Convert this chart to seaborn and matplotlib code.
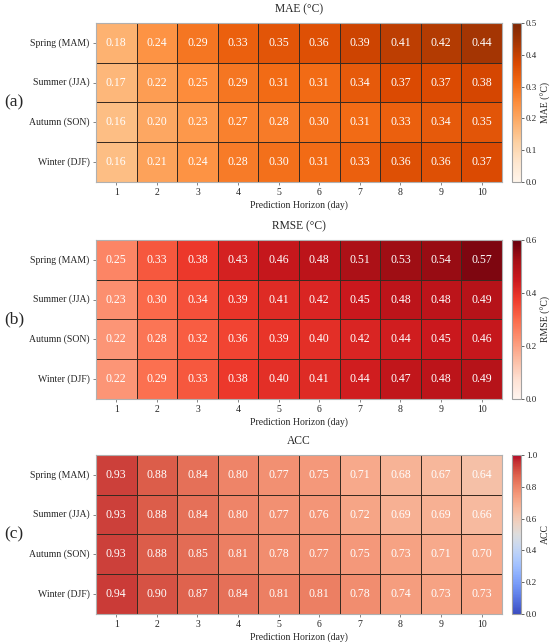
import numpy as np
import pandas as pd
import matplotlib
matplotlib.use("Agg")
import matplotlib.pyplot as plt
import seaborn as sns

seasons = ["Spring (MAM)", "Summer (JJA)", "Autumn (SON)", "Winter (DJF)"]
horizons = [1, 2, 3, 4, 5, 6, 7, 8, 9, 10]

mae = [
    [0.18, 0.24, 0.29, 0.33, 0.35, 0.36, 0.39, 0.41, 0.42, 0.44],
    [0.17, 0.22, 0.25, 0.29, 0.31, 0.31, 0.34, 0.37, 0.37, 0.38],
    [0.16, 0.20, 0.23, 0.27, 0.28, 0.30, 0.31, 0.33, 0.34, 0.35],
    [0.16, 0.21, 0.24, 0.28, 0.30, 0.31, 0.33, 0.36, 0.36, 0.37],
]
rmse = [
    [0.25, 0.33, 0.38, 0.43, 0.46, 0.48, 0.51, 0.53, 0.54, 0.57],
    [0.23, 0.30, 0.34, 0.39, 0.41, 0.42, 0.45, 0.48, 0.48, 0.49],
    [0.22, 0.28, 0.32, 0.36, 0.39, 0.40, 0.42, 0.44, 0.45, 0.46],
    [0.22, 0.29, 0.33, 0.38, 0.40, 0.41, 0.44, 0.47, 0.48, 0.49],
]
acc = [
    [0.93, 0.88, 0.84, 0.80, 0.77, 0.75, 0.71, 0.68, 0.67, 0.64],
    [0.93, 0.88, 0.84, 0.80, 0.77, 0.76, 0.72, 0.69, 0.69, 0.66],
    [0.93, 0.88, 0.85, 0.81, 0.78, 0.77, 0.75, 0.73, 0.71, 0.70],
    [0.94, 0.90, 0.87, 0.84, 0.81, 0.81, 0.78, 0.74, 0.73, 0.73],
]

panels = [
    ("(a)", "MAE (\u00b0C)", mae, "Oranges", 0.5, [0.0, 0.1, 0.2, 0.3, 0.4, 0.5]),
    ("(b)", "RMSE (\u00b0C)", rmse, "Reds", 0.6, [0.0, 0.2, 0.4, 0.6]),
    ("(c)", "ACC", acc, "coolwarm", 1.0, [0.0, 0.2, 0.4, 0.6, 0.8, 1.0]),
]

sns.set_style("white")
plt.rcParams["font.family"] = ["Liberation Serif", "DejaVu Serif"]

fig = plt.figure(figsize=(5.5, 6.42), dpi=100)

# axes rows (bottom, height) in figure fraction
rows = [(0.7165, 0.2477), (0.3785, 0.2477), (0.0436, 0.2477)]

for (tag, name, vals, cmap, vmax, cticks), (b, h) in zip(panels, rows):
    ax = fig.add_axes([0.1745, b, 0.738, h])
    cax = fig.add_axes([0.931, b, 0.0164, h])
    df = pd.DataFrame(vals, index=seasons, columns=horizons)
    sns.heatmap(df, ax=ax, cbar_ax=cax, cmap=cmap, vmin=0, vmax=vmax,
                annot=True, fmt=".2f", annot_kws={"color": "white", "fontsize": 8.5},
                linewidths=0.5, linecolor="#3a2a20",
                cbar_kws={"ticks": cticks})
    ax.set_title(name, fontsize=8.3, pad=8)
    ax.set_xlabel("Prediction Horizon (day)", fontsize=7, labelpad=2)
    ax.set_ylabel("")
    ax.tick_params(axis="both", labelsize=7, length=2.5, width=0.5, pad=2, color="#555555")
    ax.tick_params(axis="x", bottom=True)
    ax.tick_params(axis="y", left=True, rotation=0)
    for s in ax.spines.values():
        s.set_visible(True)
        s.set_color("#b0b0b0")
        s.set_linewidth(0.8)
    cax.tick_params(labelsize=6.5, length=2, width=0.5, pad=1.5)
    cax.set_ylabel(name, fontsize=7, labelpad=3)
    cbar = ax.collections[0].colorbar
    cbar.outline.set_visible(True)
    cbar.outline.set_edgecolor("#a0a0a0")
    cbar.outline.set_linewidth(0.8)
    cax.yaxis.set_major_formatter(matplotlib.ticker.FormatStrFormatter("%.1f"))
    fig.text(0.008, b + h / 2, tag, fontsize=12.5, va="center", ha="left")

fig.savefig("out.png", dpi=100)
